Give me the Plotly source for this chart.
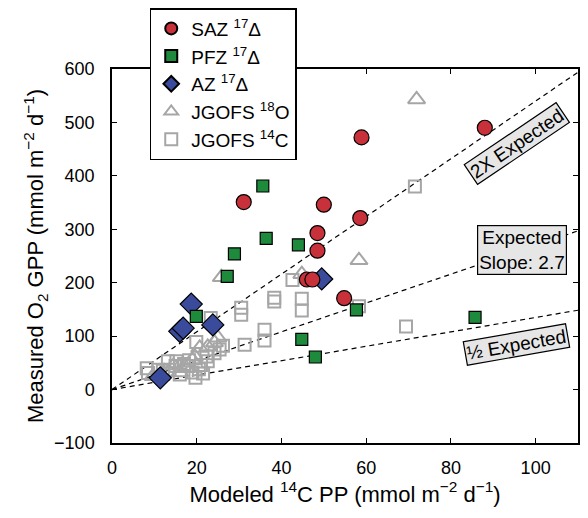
import plotly.graph_objects as go

# SAZ 17-Delta (red circles)
saz_x = [88.0, 58.9, 31.1, 50.0, 58.6, 48.5, 48.5, 46.0, 47.3, 54.8]
saz_y = [490, 472, 351, 346, 321, 293, 260, 206, 206, 171]

# PFZ 17-Delta (green squares)
pfz_x = [85.7, 35.6, 36.4, 44.0, 28.9, 27.2, 19.9, 57.7, 44.8, 48.0]
pfz_y = [135, 381, 283, 271, 254, 212, 137, 149, 94, 61]

# AZ 17-Delta (blue diamonds)
az_x = [49.5, 18.7, 23.8, 16.0, 16.8, 11.4]
az_y = [207, 160, 121, 109, 115, 22]

# JGOFS 18O (open grey triangles)
o18_x = [71.9, 58.3, 44.8, 25.8, 25.0, 24.2, 20.7, 22.6, 19.5, 19.0, 16.0, 17.5, 9.7, 14.5]
o18_y = [543, 242, 216, 210, 97, 88, 78, 80, 62, 55, 32, 40, 25, 45]

# JGOFS 14C (open grey squares)
c14_x = [71.5, 69.4, 58.3, 44.8, 44.8, 38.3, 38.3, 42.6, 36.0, 36.0, 31.3, 30.5, 30.5,
         23.3, 19.9, 26.2, 25.4, 24.2, 22.3, 22.6, 21.0, 15.2, 17.6, 19.0, 16.0, 13.6,
         19.7, 13.2, 8.2, 8.5, 10.9, 18.2, 20.5, 17.0, 15.0, 21.5, 12.0]
c14_y = [380, 118, 156, 170, 148, 172, 165, 205, 112, 92, 84, 153, 140,
         134, 89, 82, 75, 68, 62, 53, 46, 53, 44, 32, 28, 37,
         22, 53, 40, 31, 37, 55, 38, 48, 44, 30, 35]

# Reference lines: expected slope and its double / half
ref_slopes = [2.7 * 2, 2.7, 2.7 / 2]
line_x = [0, 110]

RED = "#c8313a"
GREEN = "#1e8a3c"
BLUE = "#3b4b9c"
GREY = "#a6a6a6"
FONT = "Liberation Sans, Arial, sans-serif"

fig = go.Figure()

for s in ref_slopes:
    fig.add_trace(go.Scatter(
        x=line_x, y=[s * v for v in line_x], mode="lines",
        line=dict(color="black", width=1.2, dash="5px,4px"),
        showlegend=False, hoverinfo="skip"))

fig.add_trace(go.Scatter(
    x=c14_x, y=c14_y, mode="markers", name="JGOFS <sup>14</sup>C",
    marker=dict(symbol="square-open", size=12, color=GREY, line=dict(width=2, color=GREY))))
fig.add_trace(go.Scatter(
    x=o18_x, y=o18_y, mode="markers", name="JGOFS <sup>18</sup>O",
    marker=dict(symbol="triangle-up-open", size=15, color=GREY, line=dict(width=2, color=GREY))))
fig.add_trace(go.Scatter(
    x=az_x, y=az_y, mode="markers", name="AZ <sup>17</sup>Δ",
    marker=dict(symbol="diamond", size=17, color=BLUE, line=dict(width=1.2, color="black"))))
fig.add_trace(go.Scatter(
    x=pfz_x, y=pfz_y, mode="markers", name="PFZ <sup>17</sup>Δ",
    marker=dict(symbol="square", size=12, color=GREEN, line=dict(width=1.2, color="black"))))
fig.add_trace(go.Scatter(
    x=saz_x, y=saz_y, mode="markers", name="SAZ <sup>17</sup>Δ",
    marker=dict(symbol="circle", size=15, color=RED, line=dict(width=1.2, color="black"))))

box = dict(bgcolor="#e6e6e6", bordercolor="black", borderwidth=1.2, borderpad=1,
           font=dict(size=19, color="black", family=FONT), showarrow=False,
           xref="x", yref="y")
fig.add_annotation(x=95.6, y=460, text="2X Expected", textangle=-34, **box)
fig.add_annotation(x=96.8, y=262, text="Expected<br>Slope: 2.7", **box)
fig.add_annotation(x=95.5, y=84, text="½ Expected", textangle=-10, **box)

axis_common = dict(
    showline=True, linecolor="black", linewidth=1.5, mirror="ticks",
    ticks="inside", ticklen=5, tickwidth=1.2, tickcolor="black",
    showgrid=False, zeroline=False,
    tickfont=dict(size=18, color="black", family=FONT),
)

fig.update_layout(
    width=588, height=518,
    margin=dict(l=112, r=8, t=69, b=75),
    plot_bgcolor="white", paper_bgcolor="white",
    font=dict(family=FONT, color="black"),
    xaxis=dict(range=[0, 110], tickvals=[0, 20, 40, 60, 80, 100],
               ticklabelstandoff=8,
               title=dict(text="Modeled <sup>14</sup>C PP (mmol m<sup>−2</sup> d<sup>−1</sup>)",
                          font=dict(size=22), standoff=6),
               **axis_common),
    yaxis=dict(range=[-100, 600], tickvals=[-100, 0, 100, 200, 300, 400, 500, 600],
               ticklabelstandoff=12,
               title=dict(text="Measured O<sub>2</sub> GPP (mmol m<sup>−2</sup> d<sup>−1</sup>)",
                          font=dict(size=22), standoff=4),
               **axis_common),
    legend=dict(x=0.081, y=1.163, xanchor="left", yanchor="top",
                traceorder="reversed", bordercolor="black", borderwidth=1.5,
                bgcolor="white", font=dict(size=19, family=FONT),
                itemsizing="constant", tracegroupgap=0),
    showlegend=True,
)

fig.write_html("out.html")
